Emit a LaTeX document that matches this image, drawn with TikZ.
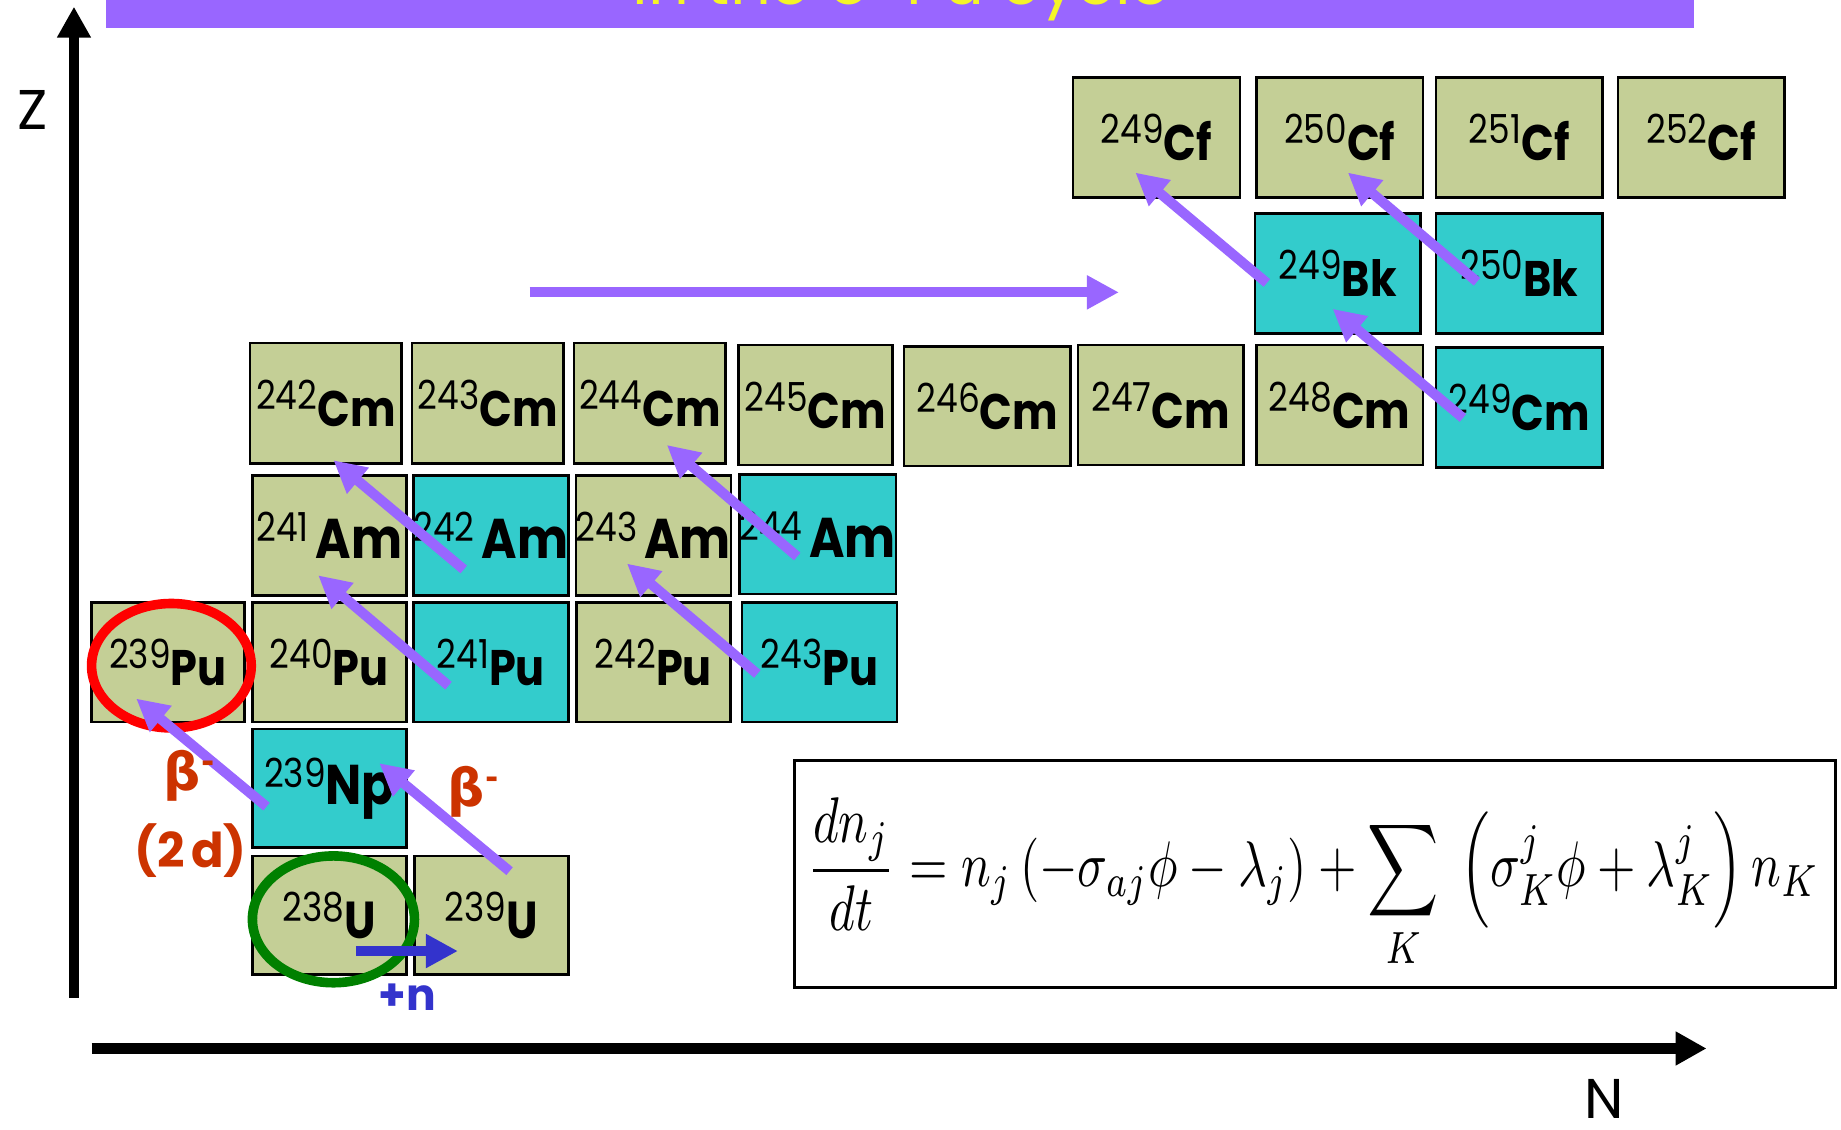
\documentclass[tikz,border=0pt]{standalone}
\usepackage{fontspec}
\usepackage{amsmath}
\setmainfont{Poppins}
\newfontfamily\grk{DejaVu Sans}
\usetikzlibrary{arrows.meta,calc}
\definecolor{nucolive}{HTML}{C4CF96}
\definecolor{nuccyan}{HTML}{33CCCC}
\definecolor{flowpurple}{HTML}{9966FF}
\definecolor{banneryellow}{HTML}{F4F428}
\definecolor{betared}{HTML}{CC3300}
\definecolor{nblue}{HTML}{3333CC}
\definecolor{ringred}{HTML}{FF0000}
\definecolor{ringgreen}{HTML}{008000}
\newcommand\elsize{25}
\newcommand\nuctext[2]{\scalebox{0.86}[1]{\raisebox{8.5pt}{\fontsize{20}{20}\selectfont #1}{\fontsize{\elsize}{\elsize}\selectfont\bfseries #2}}}
\newcommand\nucbx[8]{%
  \node[#2, minimum width={(#5-#3)*0.587pt}, minimum height={(#6-#4)*0.587pt}] (#1) at ({(#3+#5)/2},{(#4+#6)/2}) {\nuctext{#7}{#8}};}
\tikzset{
  nucbox/.style={draw=black, line width=1.3pt, inner sep=0pt, outer sep=0pt},
  stable/.style={nucbox, fill=nucolive},
  unstable/.style={nucbox, fill=nuccyan},
  flow/.style={draw=flowpurple, line width=5pt, -{Triangle[length=16pt,width=16pt]}},
  axisarrow/.style={draw=black, line width=5.2pt, -{Triangle[length=15.5pt,width=16pt]}},
  ring/.style={line width=4.8pt},
  lbl/.style={inner sep=0pt, font=\bfseries\fontsize{26}{26}\selectfont},
}
\begin{document}
\begin{tikzpicture}[x=0.587pt, y=-0.587pt]
\useasboundingbox (0,0) rectangle (1568,962);
\clip (0,0) rectangle (1568,962);
% banner
\fill[flowpurple] (90,-20) rectangle (1443,23.6);
\node[anchor=base, inner sep=0pt, text=banneryellow, font=\fontsize{32}{32}\selectfont] (title) at (768,3.5) {in the U-Pu cycle};
% axes
\coordinate (ybot) at (63,850);
\coordinate (ytop) at (63,5.7);
\coordinate (xleft) at (78,893);
\coordinate (xright) at (1453.5,893);
\draw[axisarrow] (ybot) -- (ytop);
\draw[axisarrow] (xleft) -- (xright);
\node[inner sep=0pt, font=\fontsize{28}{28}\selectfont] (zlabel) at (28,94) {Z};
\node[inner sep=0pt, font=\fontsize{28}{28}\selectfont] (nlabel) at (1366.5,936) {N};
% Cf row
\nucbx{cf249}{stable}{914}{66}{1056}{168}{249}{Cf}
\nucbx{cf250}{stable}{1070}{66}{1212}{168}{250}{Cf}
\nucbx{cf251}{stable}{1223}{66}{1365}{168}{251}{Cf}
\nucbx{cf252}{stable}{1378}{66}{1520}{168}{252}{Cf}
% Bk row
\nucbx{bk249}{unstable}{1069}{182}{1210}{284}{249}{Bk}
\nucbx{bk250}{unstable}{1223}{182}{1365}{284}{250}{Bk}
% Cm row
\nucbx{cm242}{stable}{213}{292}{342}{395}{242}{Cm}
\nucbx{cm243}{stable}{351}{292}{480}{395}{243}{Cm}
\nucbx{cm244}{stable}{489}{292}{618}{395}{244}{Cm}
\nucbx{cm245}{stable}{629}{294}{760}{396}{245}{Cm}
\nucbx{cm246}{stable}{770}{295}{912}{397}{246}{Cm}
\nucbx{cm247}{stable}{918}{294}{1059}{396}{247}{Cm}
\nucbx{cm248}{stable}{1070}{294}{1212}{396}{248}{Cm}
\nucbx{cm249}{unstable}{1223}{296}{1365}{398}{249}{Cm}
% Am row
\renewcommand\elsize{28}
\nucbx{am241}{stable}{215}{405}{346}{507}{241\hspace{4pt}}{Am}
\nucbx{am242}{unstable}{352}{405}{484}{507}{242\hspace{4pt}}{Am}
\nucbx{am243}{stable}{491}{405}{622}{507}{243\hspace{4pt}}{Am}
\nucbx{am244}{unstable}{631}{404}{762}{506}{244\hspace{4pt}}{Am}
\renewcommand\elsize{25}
% Pu row
\nucbx{pu239}{stable}{78}{513}{208}{615}{239}{Pu}
\nucbx{pu240}{stable}{215}{513}{346}{615}{240}{Pu}
\nucbx{pu241}{unstable}{352}{513}{484}{615}{241}{Pu}
\nucbx{pu242}{stable}{491}{513}{622}{615}{242}{Pu}
\nucbx{pu243}{unstable}{632}{513}{764}{615}{243}{Pu}
% Np, U
\renewcommand\elsize{28}
\nucbx{np239}{unstable}{215}{621}{346}{722}{239}{Np}
\renewcommand\elsize{26}
\nucbx{u238}{stable}{215}{729}{346}{830}{238}{U}
\nucbx{u239}{stable}{353}{729}{484}{830}{239}{U}
% rings
\draw[ring, draw=ringred] (146,567) ellipse [x radius=68, y radius=53];
\draw[ring, draw=ringgreen] (284,783) ellipse [x radius=69, y radius=54];
% neutron capture arrow
\coordinate (ncs) at (303,810);
\coordinate (nce) at (390,810);
\draw[draw=nblue, line width=5pt, -{Triangle[length=16pt,width=16pt]}] (ncs) -- (nce);
\node[lbl, text=nblue, font=\bfseries\fontsize{22}{22}\selectfont] (plusn) at (347,849) {+n};
% flow arrows
\coordinate (a1s) at (227,687);  \coordinate (a1e) at (116,595);
\coordinate (a2s) at (434,742);  \coordinate (a2e) at (323,650);
\coordinate (a3s) at (382,584);  \coordinate (a3e) at (271,490);
\coordinate (a4s) at (395,485);  \coordinate (a4e) at (284,392);
\coordinate (a5s) at (645,574);  \coordinate (a5e) at (534,480);
\coordinate (a6s) at (679,474);  \coordinate (a6e) at (568,379);
\coordinate (a7s) at (451,249);  \coordinate (a7e) at (953,249);
\coordinate (a8s) at (1079,241); \coordinate (a8e) at (967,147);
\coordinate (a9s) at (1246,356); \coordinate (a9e) at (1135,263);
\coordinate (a10s) at (1258,240); \coordinate (a10e) at (1148,147);
\foreach \i in {1,...,10} {\draw[flow] (a\i s) -- (a\i e);}
% labels
\node[lbl, text=betared, font=\grk\bfseries\fontsize{26}{26}\selectfont] (beta1) at (161,661) {β\raisebox{9pt}{\fontsize{16}{16}\selectfont -}};
\node[lbl, text=betared, font=\grk\bfseries\fontsize{26}{26}\selectfont] (beta2) at (403,674) {β\raisebox{9pt}{\fontsize{16}{16}\selectfont -}};
\node[lbl, text=betared, font=\bfseries\fontsize{24}{24}\selectfont] (halflife) at (162.5,724.5) {(2\hspace{3pt}d)};
% equation
\node[draw=black, line width=1.4pt, minimum width={886*0.587pt}, minimum height={193*0.587pt}, inner sep=0pt] (eqbox) at (1120,744.5) {};
\node[inner sep=0pt] (eq) at (1118.5,753) {\resizebox*{506pt}{86pt}{$\displaystyle \frac{dn_{j}}{dt}=n_{j}\left(-\sigma_{aj}\phi-\lambda_{j}\right)+\sum_{K}\;\left(\sigma_{K}^{j}\phi+\lambda_{K}^{j}\right)n_{K}$}};
\end{tikzpicture}
\end{document}
